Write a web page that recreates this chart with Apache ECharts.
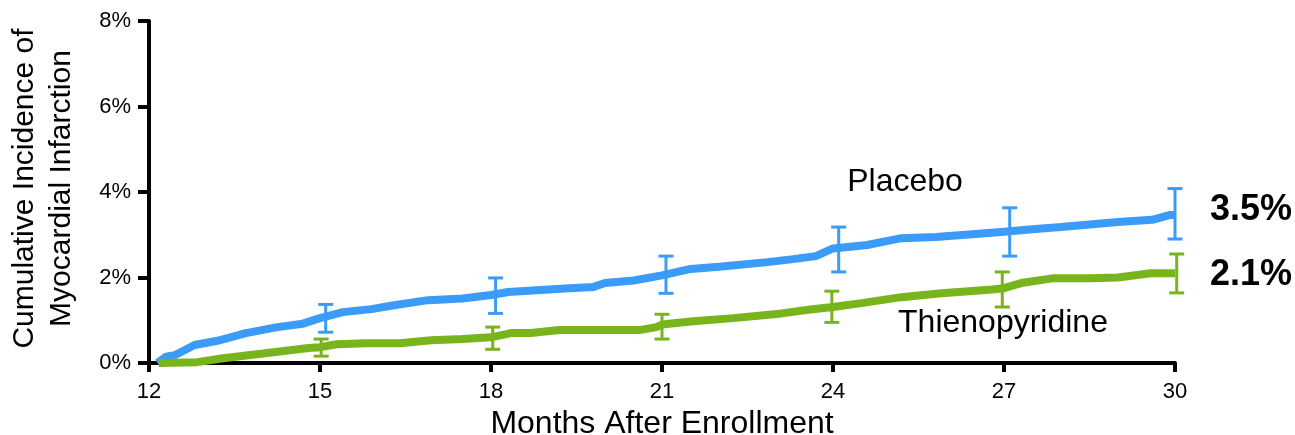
<!DOCTYPE html>
<html><head><meta charset="utf-8">
<script src="https://cdn.jsdelivr.net/npm/echarts@6/dist/echarts.min.js"></script>
<style>html,body{margin:0;padding:0;background:#fff}#c{width:1295px;height:435px}</style>
</head><body><div id="c"></div>
<script>
const xTicks = [12, 15, 18, 21, 24, 27, 30];
const yTicks = [0, 2, 4, 6, 8];
const seriesNames = ['Placebo', 'Thienopyridine'];
const endLabels = ['3.5%', '2.1%'];

const placeboMonths = [12.15, 12.3, 12.45, 12.8, 13.2, 13.7, 14.25, 14.7, 15.0, 15.4, 15.9, 16.3, 16.9, 17.5, 18.0, 18.3, 18.8, 19.3, 19.8, 20.0, 20.5, 21.0, 21.5, 22.0, 22.85, 23.3, 23.7, 24.0, 24.6, 25.2, 25.8, 26.5, 27.0, 27.5, 28.0, 28.5, 29.0, 29.6, 29.9, 30.0];
const placeboValues = [0, 0.15, 0.18, 0.42, 0.52, 0.7, 0.84, 0.92, 1.05, 1.19, 1.26, 1.35, 1.47, 1.51, 1.59, 1.66, 1.7, 1.74, 1.78, 1.87, 1.93, 2.05, 2.2, 2.25, 2.36, 2.43, 2.5, 2.68, 2.76, 2.92, 2.95, 3.02, 3.07, 3.13, 3.18, 3.24, 3.3, 3.35, 3.46, 3.46];

const thienoMonths = [12.17, 12.85, 13.3, 14.0, 14.8, 15.0, 15.3, 15.8, 16.4, 16.95, 17.5, 18.0, 18.35, 18.7, 19.2, 20.0, 20.6, 20.9, 21.0, 21.5, 22.25, 23.1, 23.6, 24.0, 24.5, 25.2, 25.9, 26.8, 27.0, 27.3, 27.85, 28.5, 29.0, 29.57, 30.0];
const thienoValues = [0, 0.02, 0.11, 0.22, 0.35, 0.37, 0.44, 0.46, 0.46, 0.53, 0.56, 0.6, 0.7, 0.7, 0.77, 0.77, 0.77, 0.84, 0.9, 0.97, 1.05, 1.16, 1.25, 1.31, 1.4, 1.54, 1.63, 1.72, 1.75, 1.87, 1.98, 1.98, 2.0, 2.1, 2.1];

const placeboErrMonths = [15.1, 18.08, 21.07, 24.1, 27.1, 30.0];
const placeboLower = [0.72, 1.16, 1.63, 2.13, 2.5, 2.9];
const placeboUpper = [1.37, 1.99, 2.5, 3.18, 3.63, 4.08];

const thienoErrMonths = [15.02, 18.03, 21.0, 23.98, 26.97, 30.03];
const thienoLower = [0.16, 0.32, 0.56, 0.95, 1.31, 1.64];
const thienoUpper = [0.56, 0.84, 1.14, 1.68, 2.13, 2.55];

const BLUE = '#3a9bf8';
const GREEN = '#78b41c';
const FONT = '"Liberation Sans", Arial, sans-serif';

function zip2(a, b) { return a.map((v, i) => [v, b[i]]); }
function zip3(a, b, c) { return a.map((v, i) => [v, b[i], c[i]]); }

function errRender(color) {
  return function (params, api) {
    const x = api.value(0), lo = api.value(1), hi = api.value(2);
    const pLo = api.coord([x, lo]), pHi = api.coord([x, hi]);
    const w = 7.5;
    const style = { stroke: color, lineWidth: 3, fill: null };
    return {
      type: 'group',
      children: [
        { type: 'line', shape: { x1: pLo[0], y1: pLo[1], x2: pHi[0], y2: pHi[1] }, style: style },
        { type: 'line', shape: { x1: pLo[0] - w, y1: pLo[1], x2: pLo[0] + w, y2: pLo[1] }, style: style },
        { type: 'line', shape: { x1: pHi[0] - w, y1: pHi[1], x2: pHi[0] + w, y2: pHi[1] }, style: style }
      ]
    };
  };
}

const chart = echarts.init(document.getElementById('c'), null, { renderer: 'canvas' });
chart.setOption({
  animation: false,
  backgroundColor: '#fff',
  grid: { left: 149, right: 120, top: 21, bottom: 72, containLabel: false, outerBoundsMode: 'none' },
  xAxis: {
    type: 'value', min: xTicks[0], max: xTicks[xTicks.length - 1], interval: 3,
    name: 'Months After Enrollment', nameLocation: 'middle', nameGap: 43,
    nameTextStyle: { fontFamily: FONT, fontSize: 32, color: '#000' },
    axisLine: { show: true, onZero: false, lineStyle: { color: '#000', width: 4 } },
    axisTick: { show: true, length: 9, lineStyle: { color: '#000', width: 4 } },
    axisLabel: { fontFamily: FONT, fontSize: 22, color: '#000', margin: 18 },
    splitLine: { show: false }
  },
  yAxis: {
    type: 'value', min: yTicks[0], max: yTicks[yTicks.length - 1], interval: 2,
    axisLine: { show: true, lineStyle: { color: '#000', width: 4 } },
    axisTick: { show: true, length: 11, lineStyle: { color: '#000', width: 4 } },
    axisLabel: { fontFamily: FONT, fontSize: 22, color: '#000', margin: 18, formatter: '{value}%' },
    splitLine: { show: false }
  },
  series: [
    { name: seriesNames[0], type: 'line', data: zip2(placeboMonths, placeboValues), showSymbol: false,
      lineStyle: { color: BLUE, width: 8 }, z: 3 },
    { name: seriesNames[1], type: 'line', data: zip2(thienoMonths, thienoValues), showSymbol: false,
      lineStyle: { color: GREEN, width: 8 }, z: 3 },
    { type: 'custom', data: zip3(placeboErrMonths, placeboLower, placeboUpper), renderItem: errRender(BLUE), clip: false, z: 4 },
    { type: 'custom', data: zip3(thienoErrMonths, thienoLower, thienoUpper), renderItem: errRender(GREEN), clip: false, z: 4 }
  ],
  graphic: [
    { type: 'text', x: 25, y: 188.5, rotation: Math.PI / 2,
      style: { text: 'Cumulative Incidence of', fontFamily: FONT, fontSize: 30, fill: '#000', textAlign: 'center', textVerticalAlign: 'middle' } },
    { type: 'text', x: 62, y: 188.5, rotation: Math.PI / 2,
      style: { text: 'Myocardial Infarction', fontFamily: FONT, fontSize: 30, fill: '#000', textAlign: 'center', textVerticalAlign: 'middle' } },
    { type: 'text', x: 905, y: 182,
      style: { text: seriesNames[0], fontFamily: FONT, fontSize: 32, fill: '#000', textAlign: 'center', textVerticalAlign: 'middle' } },
    { type: 'text', x: 1003, y: 323.5,
      style: { text: seriesNames[1], fontFamily: FONT, fontSize: 32, fill: '#000', textAlign: 'center', textVerticalAlign: 'middle' } },
    { type: 'text', x: 1210, y: 210.5,
      style: { text: endLabels[0], fontFamily: FONT, fontSize: 36, fontWeight: 'bold', fill: '#000', textAlign: 'left', textVerticalAlign: 'middle' } },
    { type: 'text', x: 1210, y: 275.5,
      style: { text: endLabels[1], fontFamily: FONT, fontSize: 36, fontWeight: 'bold', fill: '#000', textAlign: 'left', textVerticalAlign: 'middle' } }
  ]
});
</script></body></html>
